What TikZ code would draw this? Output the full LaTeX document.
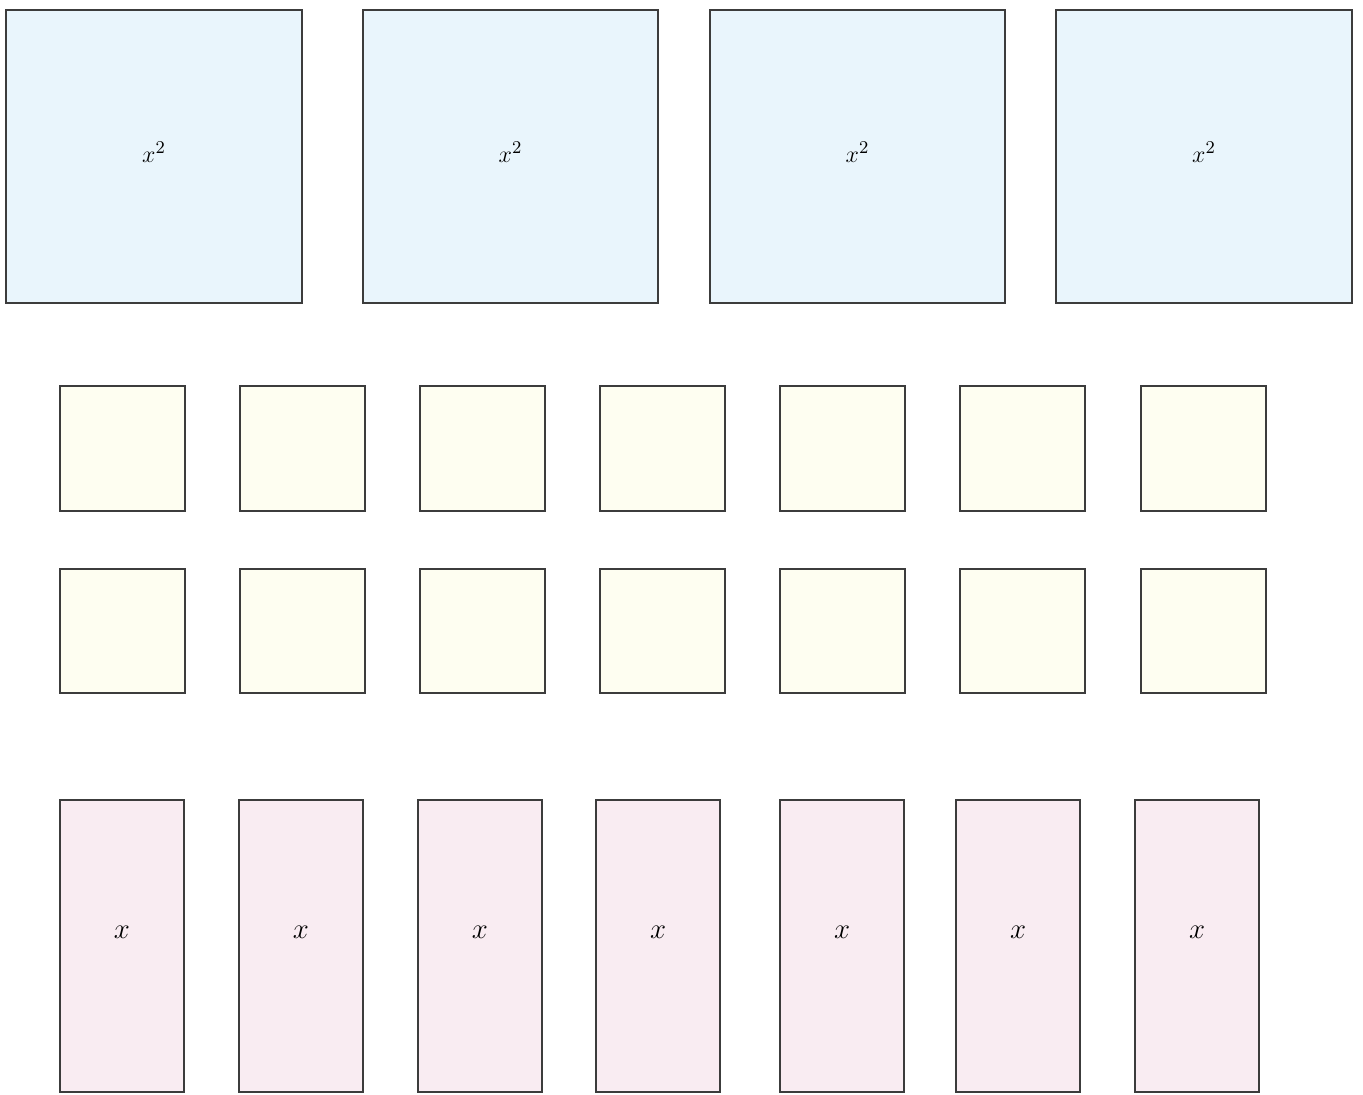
\documentclass[tikz,border=0pt]{standalone}
\begin{document}
\begin{tikzpicture}[x=0.5pt,y=-0.5pt]
\definecolor{bluefill}{HTML}{E9F5FC}
\definecolor{yellowfill}{HTML}{FEFEF1}
\definecolor{pinkfill}{HTML}{F9ECF2}
\definecolor{edgegray}{HTML}{3C3C3C}
\tikzset{
  tile/.style={draw=edgegray, line width=1pt},
  bigsq/.style={tile, fill=bluefill},
  unitsq/.style={tile, fill=yellowfill},
  rodrect/.style={tile, fill=pinkfill},
  biglabel/.style={font=\fontsize{13}{15}\selectfont},
  rodlabel/.style={font=\fontsize{14}{16}\selectfont}
}
\useasboundingbox (0,0) rectangle (1363,1095);
% x^2 tiles
\foreach \a/\b/\i in {6/302/1, 363/658/2, 710/1005/3, 1056/1352/4}{
  \draw[bigsq] (\a,10) rectangle (\b,303);
  \node[biglabel] (sq\i) at ({(\a+\b)/2},152) {$x^2$};
}
% unit tiles
\foreach \a in {60, 240, 420, 600, 780, 960, 1141}{
  \draw[unitsq] (\a,386) rectangle ++(125,125);
  \draw[unitsq] (\a,569) rectangle ++(125,124);
}
% x tiles
\foreach \a/\i in {60/1, 239/2, 418/3, 596/4, 780/5, 956/6, 1135/7}{
  \draw[rodrect] (\a,800) rectangle ++(124,292);
  \node[rodlabel] (rod\i) at ({\a+62},932) {$x$};
}
\end{tikzpicture}
\end{document}
